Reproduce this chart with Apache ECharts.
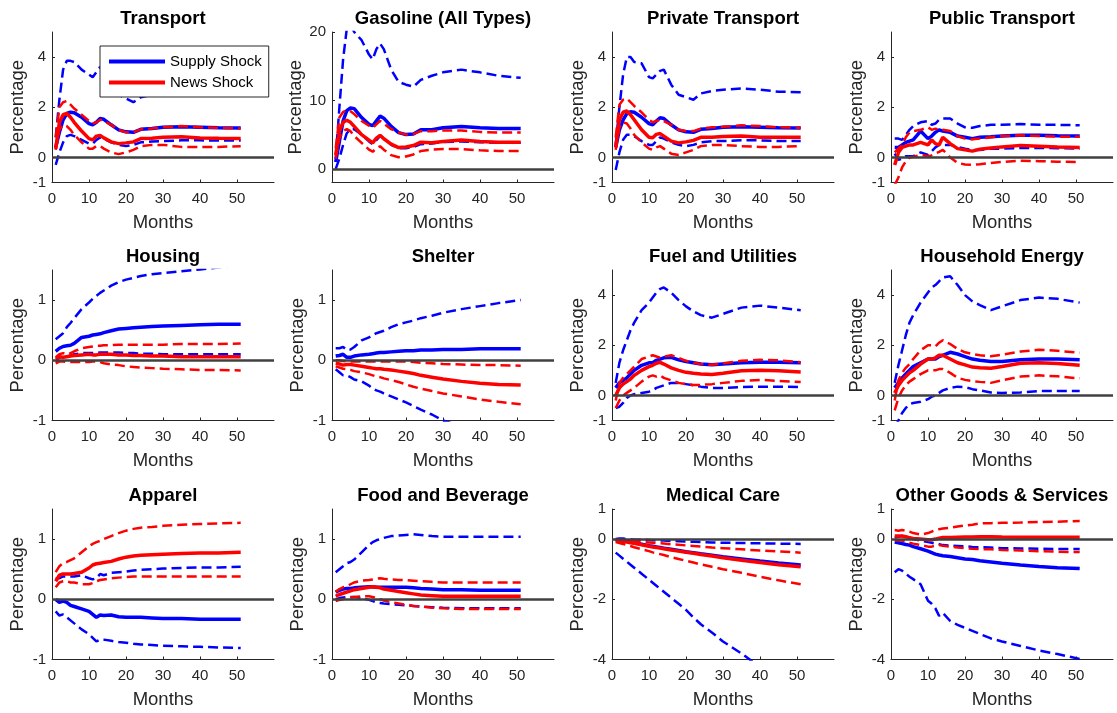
<!DOCTYPE html>
<html><head><meta charset="utf-8">
<script src="https://cdn.jsdelivr.net/npm/echarts@6/dist/echarts.min.js"></script>
<style>html,body{margin:0;padding:0;background:#fff}#c{width:1117px;height:713px}</style>
</head><body><div id="c"></div><script>
// ---- data ----
const months = [1,2,3,4,5,6,8,10,11,12,13,14,16,18,20,22,24,27,30,35,40,45,51];
const titles = ['Transport','Gasoline (All Types)','Private Transport','Public Transport','Housing','Shelter','Fuel and Utilities','Household Energy','Apparel','Food and Beverage','Medical Care','Other Goods & Services'];
const yMins = [-1,-2,-1,-1,-1,-1,-1,-1,-1,-1,-4,-4];
const yMaxs = [5,20,5,5,1.5,1.5,5,5,1.5,1.5,1,1];
const yTicks = [[-1,0,2,4],[-2,0,10,20],[-1,0,2,4],[-1,0,2,4],[-1,0,1],[-1,0,1],[-1,0,2,4],[-1,0,2,4],[-1,0,1],[-1,0,1],[-4,-2,0,1],[-4,-2,0,1]];
const xTicks = [0,10,20,30,40,50];
const seriesNames = ['Supply Shock','News Shock'];
// each panel: [supplyMedian, supplyUpper, supplyLower, newsMedian, newsUpper, newsLower]
const transport = [
 [0.4,1.0,1.5,1.75,1.8,1.78,1.6,1.35,1.3,1.4,1.55,1.52,1.3,1.1,1.02,1.0,1.12,1.15,1.2,1.22,1.2,1.18,1.17],
 [0.8,2.3,3.5,3.85,3.85,3.8,3.5,3.3,3.2,3.4,3.6,3.55,3.0,2.5,2.35,2.2,2.4,2.5,2.6,2.7,2.65,2.6,2.6],
 [-0.3,0.2,0.6,0.85,0.9,0.85,0.7,0.55,0.55,0.7,0.8,0.75,0.6,0.5,0.45,0.5,0.6,0.63,0.65,0.68,0.68,0.67,0.67],
 [0.35,1.4,1.7,1.75,1.6,1.4,1.05,0.75,0.7,0.85,0.88,0.78,0.62,0.55,0.58,0.62,0.75,0.76,0.8,0.82,0.77,0.76,0.75],
 [0.8,2.0,2.2,2.25,2.1,1.95,1.7,1.45,1.35,1.4,1.5,1.45,1.3,1.1,1.0,1.0,1.12,1.15,1.2,1.25,1.2,1.18,1.15],
 [0.3,1.1,1.3,1.25,1.1,0.9,0.6,0.35,0.35,0.45,0.45,0.35,0.2,0.13,0.2,0.3,0.45,0.5,0.5,0.42,0.42,0.42,0.45]
];
const gasoline = [
 [1.0,4.0,7.0,8.5,8.9,8.8,7.5,6.5,6.3,7.0,7.7,7.4,6.2,5.3,5.0,5.1,5.7,5.7,6.0,6.2,6.0,5.9,5.9],
 [1.5,9,16,20.5,21,20,18.8,16.7,16,17.5,18.3,17.5,14.5,12.7,12.3,12.0,13.0,13.6,14.1,14.5,14.1,13.6,13.3],
 [0,1.5,3.5,5.2,5.8,5.8,5.0,4.0,3.6,4.2,4.8,4.5,3.5,3.0,3.0,3.2,3.6,3.7,3.9,4.0,3.9,3.8,3.8],
 [2,5.5,6.8,7.1,6.8,6.2,5.0,4.2,3.8,4.5,4.9,4.4,3.6,3.1,3.2,3.4,3.9,3.8,4.0,4.2,4.0,3.9,3.9],
 [3,7.5,8.3,8.6,8.4,8.0,7.0,6.3,6.0,6.5,7.0,6.6,5.8,5.3,5.0,5.1,5.5,5.5,5.6,5.6,5.4,5.3,5.3],
 [1.5,4.5,5.5,5.8,5.5,4.8,3.8,2.8,2.5,3.0,3.3,2.8,2.0,1.7,1.8,2.1,2.6,2.8,2.9,2.9,2.7,2.6,2.6]
];
const privateTransport = [
 [0.4,1.1,1.5,1.75,1.82,1.8,1.6,1.35,1.3,1.45,1.58,1.55,1.3,1.1,1.02,1.0,1.12,1.15,1.2,1.22,1.2,1.18,1.17],
 [0.5,2.0,3.3,4.0,4.0,3.8,3.75,3.2,3.15,3.3,3.45,3.5,2.9,2.5,2.4,2.3,2.55,2.65,2.7,2.75,2.7,2.62,2.6],
 [-0.5,0.2,0.7,0.9,0.9,0.85,0.65,0.5,0.5,0.65,0.8,0.75,0.6,0.5,0.45,0.5,0.6,0.65,0.65,0.68,0.68,0.65,0.65],
 [0.4,1.5,1.8,1.85,1.7,1.5,1.1,0.8,0.78,0.92,0.95,0.85,0.65,0.58,0.62,0.68,0.8,0.8,0.83,0.85,0.8,0.8,0.8],
 [0.8,2.1,2.3,2.35,2.2,2.05,1.8,1.5,1.4,1.45,1.5,1.45,1.3,1.1,1.05,1.05,1.15,1.2,1.22,1.28,1.25,1.2,1.18],
 [0.3,1.2,1.4,1.35,1.15,0.9,0.6,0.35,0.3,0.4,0.45,0.35,0.15,0.1,0.2,0.3,0.45,0.5,0.5,0.45,0.42,0.42,0.45]
];
const publicTransport = [
 [0.4,0.4,0.5,0.6,0.65,0.7,1.05,0.75,0.85,1.0,1.1,1.05,1.0,0.85,0.8,0.75,0.8,0.82,0.85,0.88,0.88,0.86,0.85],
 [0.75,0.75,0.7,0.9,1.1,1.25,1.4,1.45,1.3,1.35,1.5,1.55,1.55,1.35,1.2,1.18,1.25,1.3,1.3,1.33,1.3,1.3,1.28],
 [0.15,-0.1,-0.05,0.05,0.05,0.05,0.2,0.1,0.25,0.4,0.5,0.5,0.5,0.42,0.35,0.3,0.3,0.35,0.35,0.38,0.38,0.37,0.35],
 [-0.3,0.2,0.4,0.45,0.5,0.5,0.6,0.5,0.7,0.55,0.5,0.8,0.55,0.35,0.3,0.25,0.33,0.38,0.42,0.48,0.45,0.42,0.4],
 [0.2,0.35,0.5,0.8,1.0,1.05,1.1,1.2,1.1,1.15,1.1,1.1,1.05,0.85,0.75,0.72,0.75,0.8,0.85,0.88,0.85,0.83,0.82],
 [-1.1,-0.8,-0.4,-0.15,0.0,0.03,0.1,0.05,0.08,0.15,0.22,0.3,0.0,-0.22,-0.28,-0.3,-0.27,-0.22,-0.18,-0.13,-0.15,-0.17,-0.18]
];
const housing = [
 [0.15,0.2,0.23,0.24,0.25,0.28,0.38,0.4,0.42,0.43,0.44,0.46,0.49,0.52,0.53,0.54,0.55,0.56,0.57,0.58,0.59,0.6,0.6],
 [0.35,0.4,0.45,0.55,0.62,0.7,0.85,0.96,1.02,1.07,1.12,1.16,1.24,1.3,1.34,1.37,1.4,1.43,1.45,1.48,1.51,1.54,1.57],
 [-0.02,0.05,0.05,0.06,0.08,0.1,0.12,0.12,0.12,0.12,0.13,0.13,0.13,0.13,0.12,0.12,0.11,0.11,0.1,0.1,0.1,0.1,0.1],
 [0.02,0.06,0.05,0.06,0.07,0.08,0.09,0.1,0.09,0.09,0.1,0.1,0.1,0.09,0.09,0.08,0.08,0.07,0.07,0.06,0.06,0.06,0.06],
 [0.05,0.1,0.12,0.1,0.12,0.15,0.2,0.22,0.23,0.24,0.24,0.25,0.25,0.26,0.26,0.26,0.26,0.26,0.26,0.27,0.27,0.27,0.28],
 [-0.05,-0.02,-0.02,-0.03,-0.03,-0.03,-0.03,-0.03,-0.02,-0.02,-0.03,-0.05,-0.07,-0.08,-0.1,-0.11,-0.12,-0.13,-0.14,-0.15,-0.16,-0.16,-0.17]
];
const shelter = [
 [0.07,0.08,0.1,0.05,0.05,0.07,0.09,0.1,0.11,0.12,0.13,0.13,0.14,0.15,0.16,0.16,0.17,0.17,0.18,0.18,0.19,0.19,0.19],
 [0.2,0.2,0.22,0.17,0.18,0.22,0.33,0.38,0.42,0.45,0.47,0.49,0.55,0.6,0.63,0.66,0.7,0.74,0.79,0.85,0.9,0.95,1.0],
 [-0.15,-0.2,-0.25,-0.25,-0.28,-0.32,-0.35,-0.42,-0.47,-0.5,-0.52,-0.55,-0.6,-0.65,-0.7,-0.76,-0.82,-0.9,-1.0,-1.1,-1.2,-1.3,-1.4],
 [-0.05,-0.06,-0.08,-0.07,-0.07,-0.08,-0.1,-0.12,-0.13,-0.14,-0.14,-0.15,-0.16,-0.18,-0.2,-0.22,-0.25,-0.28,-0.31,-0.35,-0.38,-0.4,-0.41],
 [0.0,0.0,-0.01,-0.02,-0.02,-0.02,-0.02,-0.02,-0.02,-0.02,-0.02,-0.02,-0.02,-0.02,-0.02,-0.03,-0.04,-0.05,-0.06,-0.07,-0.08,-0.08,-0.09],
 [-0.1,-0.12,-0.14,-0.15,-0.16,-0.18,-0.2,-0.23,-0.25,-0.27,-0.28,-0.3,-0.33,-0.36,-0.4,-0.44,-0.47,-0.51,-0.55,-0.6,-0.65,-0.69,-0.73]
];
const fuelUtilities = [
 [0.3,0.5,0.6,0.7,0.85,1.0,1.2,1.3,1.3,1.4,1.45,1.5,1.52,1.42,1.35,1.3,1.25,1.22,1.25,1.3,1.32,1.32,1.3],
 [0.5,1.3,1.8,2.2,2.6,2.9,3.4,3.7,3.9,4.1,4.25,4.3,4.1,3.8,3.55,3.35,3.2,3.1,3.25,3.5,3.58,3.5,3.4],
 [-0.5,-0.45,-0.3,-0.1,0.0,0.05,0.1,0.15,0.2,0.3,0.35,0.4,0.5,0.5,0.45,0.4,0.35,0.3,0.3,0.33,0.35,0.35,0.33],
 [0.0,0.3,0.45,0.55,0.65,0.8,1.0,1.15,1.2,1.28,1.32,1.25,1.1,1.0,0.92,0.88,0.85,0.83,0.88,0.98,1.0,0.98,0.93],
 [-0.2,0.5,0.7,0.85,1.0,1.15,1.45,1.55,1.6,1.55,1.5,1.55,1.6,1.5,1.38,1.3,1.25,1.22,1.28,1.38,1.42,1.4,1.32],
 [-0.5,-0.2,0.0,0.1,0.2,0.3,0.55,0.75,0.8,0.75,0.8,0.7,0.6,0.5,0.45,0.42,0.42,0.45,0.5,0.58,0.62,0.58,0.53]
];
const householdEnergy = [
 [0.3,0.5,0.7,0.85,1.0,1.15,1.3,1.45,1.45,1.45,1.55,1.6,1.72,1.65,1.55,1.45,1.4,1.35,1.35,1.42,1.45,1.45,1.42],
 [0.5,1.2,1.8,2.4,2.9,3.2,3.7,4.1,4.3,4.4,4.55,4.7,4.75,4.4,4.0,3.75,3.6,3.4,3.55,3.8,3.9,3.85,3.7],
 [-1.3,-1.0,-0.7,-0.5,-0.35,-0.3,-0.25,-0.15,-0.05,0.0,0.1,0.2,0.3,0.35,0.33,0.25,0.2,0.12,0.1,0.12,0.17,0.18,0.18],
 [0.1,0.4,0.6,0.75,0.9,1.0,1.25,1.45,1.45,1.5,1.6,1.6,1.45,1.3,1.22,1.13,1.1,1.08,1.15,1.28,1.3,1.27,1.2],
 [-0.2,0.6,0.9,1.1,1.25,1.45,1.8,2.0,2.0,1.95,2.1,2.2,2.05,1.85,1.72,1.65,1.6,1.56,1.62,1.75,1.82,1.78,1.7],
 [-0.6,-0.1,0.2,0.4,0.55,0.65,0.85,1.0,1.0,1.0,1.05,1.05,0.9,0.7,0.62,0.57,0.54,0.5,0.6,0.75,0.8,0.76,0.68]
];
const apparel = [
 [0.0,-0.05,-0.03,-0.05,-0.1,-0.12,-0.16,-0.2,-0.25,-0.3,-0.26,-0.27,-0.26,-0.29,-0.3,-0.3,-0.3,-0.31,-0.32,-0.32,-0.33,-0.33,-0.33],
 [0.35,0.35,0.38,0.38,0.38,0.38,0.4,0.35,0.33,0.35,0.42,0.4,0.44,0.45,0.46,0.48,0.49,0.5,0.51,0.52,0.53,0.53,0.54],
 [-0.2,-0.27,-0.25,-0.3,-0.35,-0.4,-0.5,-0.58,-0.64,-0.7,-0.67,-0.67,-0.69,-0.71,-0.72,-0.74,-0.75,-0.76,-0.77,-0.78,-0.79,-0.8,-0.81],
 [0.3,0.4,0.42,0.42,0.42,0.43,0.45,0.52,0.57,0.59,0.6,0.61,0.63,0.67,0.7,0.72,0.73,0.74,0.75,0.76,0.77,0.77,0.78],
 [0.45,0.55,0.6,0.62,0.65,0.68,0.78,0.88,0.92,0.95,0.97,1.0,1.05,1.1,1.14,1.17,1.19,1.2,1.22,1.24,1.25,1.26,1.27],
 [0.2,0.28,0.3,0.3,0.28,0.28,0.25,0.25,0.27,0.3,0.32,0.33,0.35,0.36,0.37,0.38,0.38,0.38,0.38,0.38,0.38,0.38,0.38]
];
const foodBeverage = [
 [0.12,0.15,0.17,0.18,0.18,0.19,0.2,0.21,0.21,0.2,0.2,0.2,0.2,0.2,0.2,0.19,0.18,0.17,0.16,0.16,0.15,0.15,0.15],
 [0.45,0.5,0.55,0.6,0.62,0.66,0.78,0.9,0.95,0.98,1.0,1.02,1.05,1.06,1.07,1.08,1.07,1.05,1.04,1.04,1.04,1.04,1.04],
 [0.0,0.02,0.03,0.04,0.04,0.04,0.02,-0.01,-0.03,-0.05,-0.06,-0.07,-0.08,-0.09,-0.1,-0.11,-0.12,-0.13,-0.14,-0.15,-0.15,-0.15,-0.15],
 [0.05,0.08,0.1,0.12,0.14,0.16,0.18,0.2,0.21,0.2,0.19,0.17,0.15,0.13,0.11,0.09,0.07,0.06,0.05,0.05,0.05,0.05,0.05],
 [0.12,0.17,0.2,0.22,0.25,0.28,0.31,0.32,0.33,0.34,0.35,0.34,0.33,0.32,0.32,0.31,0.3,0.29,0.28,0.28,0.28,0.28,0.28],
 [-0.03,-0.01,0.0,0.02,0.03,0.04,0.05,0.05,0.04,0.02,0.0,-0.02,-0.05,-0.07,-0.09,-0.11,-0.12,-0.14,-0.15,-0.16,-0.16,-0.16,-0.16]
];
const medicalCare = [
 [-0.02,-0.03,-0.05,-0.07,-0.1,-0.12,-0.17,-0.22,-0.24,-0.26,-0.28,-0.3,-0.34,-0.38,-0.42,-0.45,-0.49,-0.54,-0.59,-0.66,-0.73,-0.79,-0.86],
 [0.0,0.02,0.02,0.0,0.0,-0.02,-0.02,-0.03,-0.04,-0.04,-0.05,-0.05,-0.06,-0.07,-0.08,-0.09,-0.1,-0.11,-0.12,-0.13,-0.14,-0.15,-0.16],
 [-0.45,-0.55,-0.65,-0.75,-0.85,-0.95,-1.15,-1.35,-1.45,-1.55,-1.65,-1.75,-1.95,-2.15,-2.35,-2.6,-2.83,-3.1,-3.4,-3.8,-4.25,-4.6,-5.0],
 [-0.05,-0.06,-0.08,-0.1,-0.12,-0.14,-0.19,-0.24,-0.26,-0.28,-0.3,-0.32,-0.36,-0.4,-0.44,-0.47,-0.51,-0.56,-0.62,-0.7,-0.78,-0.85,-0.92],
 [-0.02,-0.03,-0.04,-0.05,-0.06,-0.07,-0.09,-0.11,-0.12,-0.13,-0.14,-0.15,-0.17,-0.19,-0.21,-0.23,-0.25,-0.28,-0.3,-0.34,-0.38,-0.41,-0.45],
 [-0.1,-0.13,-0.16,-0.2,-0.23,-0.27,-0.34,-0.4,-0.44,-0.47,-0.5,-0.53,-0.6,-0.66,-0.72,-0.78,-0.84,-0.92,-1.0,-1.12,-1.25,-1.37,-1.5]
];
const otherGoods = [
 [-0.1,-0.12,-0.15,-0.18,-0.2,-0.25,-0.32,-0.4,-0.45,-0.5,-0.53,-0.55,-0.58,-0.62,-0.66,-0.68,-0.72,-0.76,-0.8,-0.86,-0.91,-0.95,-0.98],
 [0.05,0.08,0.1,0.08,0.05,0.0,-0.05,-0.1,-0.12,-0.15,-0.17,-0.2,-0.22,-0.23,-0.24,-0.26,-0.27,-0.28,-0.3,-0.31,-0.32,-0.33,-0.33],
 [-1.1,-1.0,-1.05,-1.15,-1.25,-1.33,-1.5,-2.05,-2.15,-2.3,-2.55,-2.45,-2.72,-2.85,-2.95,-3.05,-3.15,-3.3,-3.4,-3.55,-3.7,-3.82,-3.98],
 [0.1,0.1,0.1,0.08,0.05,0.02,0.0,-0.02,-0.02,0.0,0.03,0.05,0.05,0.06,0.07,0.07,0.08,0.08,0.07,0.06,0.06,0.06,0.06],
 [0.3,0.28,0.3,0.28,0.25,0.2,0.15,0.2,0.25,0.3,0.33,0.35,0.38,0.42,0.45,0.48,0.52,0.53,0.54,0.55,0.57,0.58,0.6],
 [-0.05,-0.05,-0.05,-0.08,-0.12,-0.15,-0.2,-0.25,-0.25,-0.22,-0.2,-0.22,-0.25,-0.28,-0.3,-0.32,-0.33,-0.34,-0.36,-0.38,-0.4,-0.42,-0.43]
];
const panels = [transport, gasoline, privateTransport, publicTransport, housing, shelter, fuelUtilities, householdEnergy, apparel, foodBeverage, medicalCare, otherGoods];

// ---- layout / style ----
const FONT = '"Liberation Sans", Arial, Helvetica, sans-serif';
const colLeft = [52, 332, 612, 891];
const rowTop = [32, 270, 509];
const W = 222, H = 150.5;
const BLUE = '#0000ff', RED = '#ff0000', AX = '#262626';
const lineDefs = [
  {name: seriesNames[0], color: BLUE, dash: false},
  {name: 'supply-upper', color: BLUE, dash: true},
  {name: 'supply-lower', color: BLUE, dash: true},
  {name: seriesNames[1], color: RED, dash: false},
  {name: 'news-upper', color: RED, dash: true},
  {name: 'news-lower', color: RED, dash: true}
];

const grid = [], xAxis = [], yAxis = [], series = [], title = [];
panels.forEach((p, i) => {
  const c = i % 4, r = Math.floor(i / 4);
  grid.push({left: colLeft[c], top: rowTop[r], width: W, height: H, containLabel: false, outerBoundsMode: 'none'});
  title.push({text: titles[i], left: colLeft[c] + W / 2, top: rowTop[r] - 23, textAlign: 'center', padding: 0,
    textStyle: {fontFamily: FONT, fontSize: 18.5, fontWeight: 'bold', color: '#000'}});
  xAxis.push({type: 'value', gridIndex: i, min: 0, max: 60,
    axisLine: {onZero: false, lineStyle: {color: AX, width: 1}},
    axisTick: {inside: true, length: 3, customValues: xTicks, lineStyle: {color: AX}},
    axisLabel: {customValues: xTicks, fontFamily: FONT, fontSize: 15, color: AX, margin: 9},
    splitLine: {show: false},
    name: 'Months', nameLocation: 'middle', nameGap: 31,
    nameTextStyle: {fontFamily: FONT, fontSize: 18.5, color: AX}});
  yAxis.push({type: 'value', gridIndex: i, min: yMins[i], max: yMaxs[i],
    axisLine: {show: true, onZero: false, lineStyle: {color: AX, width: 1}},
    axisTick: {show: true, inside: true, length: 3, customValues: yTicks[i], lineStyle: {color: AX}},
    axisLabel: {customValues: yTicks[i], fontFamily: FONT, fontSize: 15, color: AX, margin: 6},
    splitLine: {show: false},
    name: 'Percentage', nameLocation: 'middle', nameGap: 25, nameRotate: 90,
    nameTextStyle: {fontFamily: FONT, fontSize: 18.5, color: AX}});
  p.forEach((vals, k) => {
    const d = lineDefs[k];
    const s = {type: 'line', name: d.name, xAxisIndex: i, yAxisIndex: i,
      data: months.map((m, j) => [m, vals[j]]),
      symbol: 'none', showSymbol: false, clip: true, silent: true,
      emphasis: {disabled: true},
      lineStyle: {color: d.color, width: d.dash ? 2.5 : 3.5, type: d.dash ? [10, 5] : 'solid'},
      itemStyle: {color: d.color}};
    if (k === p.length - 1) {
      s.markLine = {silent: true, symbol: ['none', 'none'], label: {show: false}, animation: false,
        lineStyle: {color: '#404040', width: 2.5, type: 'solid'}, emphasis: {disabled: true},
        data: [{yAxis: 0}]};
    }
    series.push(s);
  });
});

const chart = echarts.init(document.getElementById('c'), null, {renderer: 'canvas'});
chart.setOption({
  animation: false,
  backgroundColor: '#fff',
  title, grid, xAxis, yAxis, series,
  legend: [{show: true, data: seriesNames, orient: 'vertical', left: 100, top: 46,
    padding: [8, 7, 7, 7], itemWidth: 56, itemHeight: 14, itemGap: 6,
    backgroundColor: '#fff', borderColor: AX, borderWidth: 1, borderRadius: 0,
    selectedMode: false, z: 10,
    textStyle: {fontFamily: FONT, fontSize: 15, color: '#000'},
    itemStyle: {opacity: 0, borderWidth: 0},
    lineStyle: {width: 4}}]
});
</script></body></html>
